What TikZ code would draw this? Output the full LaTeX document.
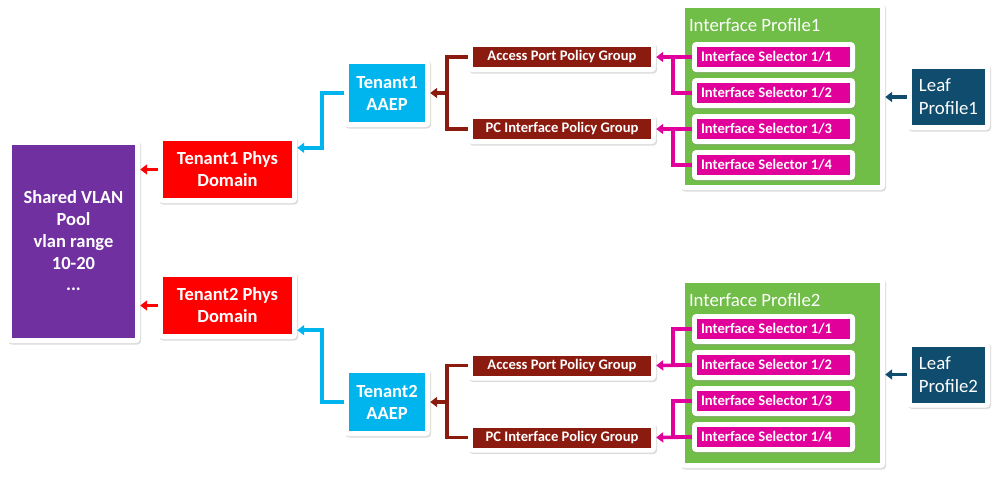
\documentclass[tikz,border=0pt]{standalone}
\usepackage{fontspec}
\setmainfont{Carlito}
\usetikzlibrary{positioning, calc, shadows, arrows.meta}
\definecolor{poolcol}{HTML}{7030A0}
\definecolor{domcol}{HTML}{FF0000}
\definecolor{aaepcol}{HTML}{00B5EE}
\definecolor{pgcol}{HTML}{8B1A0F}
\definecolor{ipcol}{HTML}{70BD48}
\definecolor{selcol}{HTML}{E1009A}
\definecolor{leafcol}{HTML}{0F4C6D}

\begin{document}
\begin{tikzpicture}[x=1pt, y=-1pt,
        box/.style={fill=white, rounded corners=4pt, inner sep=0pt, text=white, align=center,
            drop shadow={shadow xshift=1.2pt, shadow yshift=-1.6pt, opacity=0.3, fill=black!45},
            path picture={\fill[#1, sharp corners] ([shift={(5pt,5pt)}]path picture bounding box.south west) rectangle ([shift={(-5pt,-5pt)}]path picture bounding box.north east);}},
        big/.style={font=\fontsize{18.5}{22}\selectfont\bfseries},
        small/.style={font=\fontsize{14.6}{16}\selectfont\bfseries},
        plain/.style={font=\fontsize{18.8}{23}\selectfont},
        selbox/.style={box=selcol, small, text width=145pt, align=flush left, minimum width=163pt, minimum height=30pt},
        link/.style={line width=3.6pt, draw=#1},
        tip/.style={-{Triangle[length=7pt,width=10pt]}}]
        \useasboundingbox (0,0) rectangle (999,480);

        %vlan pool e domini
        \node[box=poolcol, big, minimum width=133pt, minimum height=203pt] (pool) at (73.5,241.5) {Shared VLAN\\Pool\\vlan range\\10-20\\\raisebox{1pt}{...}};
        \node[box=domcol, big, minimum width=139pt, minimum height=67pt] (dom1) at (227.5,169.5) {Tenant1 Phys\\Domain};
        \node[box=domcol, big, minimum width=139pt, minimum height=67pt] (dom2) at (227.5,305.5) {Tenant2 Phys\\Domain};

        %aaep
        \node[box=aaepcol, big, minimum width=86pt, minimum height=68pt] (aaep1) at (387,93) {Tenant1\\AAEP};
        \node[box=aaepcol, big, minimum width=86pt, minimum height=68pt] (aaep2) at (387,402) {Tenant2\\AAEP};

        %policy group
        \node[box=pgcol, small, minimum width=188pt, minimum height=30pt] (ap1) at (562,57) {Access Port Policy Group};
        \node[box=pgcol, small, minimum width=188pt, minimum height=30pt] (pc1) at (562,129) {PC Interface Policy Group};
        \node[box=pgcol, small, minimum width=188pt, minimum height=30pt] (ap2) at (562,365.5) {Access Port Policy Group};
        \node[box=pgcol, small, minimum width=188pt, minimum height=30pt] (pc2) at (562,437.5) {PC Interface Policy Group};

        %interface profile
        \node[box=ipcol, minimum width=205pt, minimum height=187pt] (ip1) at (782.5,96.5) {};
        \node[text=white, plain, anchor=base west, inner sep=0pt] (ipt1) at ([shift={(9pt,-29pt)}]ip1.north west) {Interface Profile1};
        \node[box=ipcol, minimum width=205pt, minimum height=190pt] (ip2) at (782.5,373) {};
        \node[text=white, plain, anchor=base west, inner sep=0pt] (ipt2) at ([shift={(9pt,-29pt)}]ip2.north west) {Interface Profile2};

        %interface selector
        \node[selbox] (s11) at (773.5,57) {Interface Selector 1/1};
        \node[selbox] (s12) at (773.5,93) {Interface Selector 1/2};
        \node[selbox] (s13) at (773.5,129) {Interface Selector 1/3};
        \node[selbox] (s14) at (773.5,165) {Interface Selector 1/4};
        \node[selbox] (s21) at (773.5,329) {Interface Selector 1/1};
        \node[selbox] (s22) at (773.5,365) {Interface Selector 1/2};
        \node[selbox] (s23) at (773.5,401) {Interface Selector 1/3};
        \node[selbox] (s24) at (773.5,437) {Interface Selector 1/4};

        %leaf profile
        \node[box=leafcol, plain, align=left, minimum width=83pt, minimum height=66pt] (leaf1) at (948.5,97) {Leaf\\Profile1};
        \node[box=leafcol, plain, align=left, minimum width=83pt, minimum height=66pt] (leaf2) at (948.5,374.5) {Leaf\\Profile2};

        %frecce dominio -> pool
        \draw[link=domcol, tip] (dom1.west) -- (dom1.west -| pool.east);
        \draw[link=domcol, tip] (dom2.west) -- (dom2.west -| pool.east);

        %frecce aaep -> dominio
        \draw[link=aaepcol, tip] (aaep1.west) -- ++(-22,0) |- ([yshift=-12pt]dom1.north east);
        \draw[link=aaepcol, tip] (aaep2.west) -- ++(-22,0) |- ([yshift=9pt]dom2.south east);

        %frecce policy group -> aaep
        \draw[link=pgcol] (ap1.west) -- ++(-21,0) coordinate (br1) |- (pc1.west);
        \draw[link=pgcol, tip] (br1 |- aaep1.east) -- (aaep1.east);
        \draw[link=pgcol] (ap2.west) -- ++(-21,0) coordinate (br2) |- (pc2.west);
        \draw[link=pgcol, tip] (br2 |- aaep2.east) -- (aaep2.east);

        %frecce selector -> policy group
        \draw[link=selcol] (s12.west) -- ++(-19,0) |- (s11.west);
        \draw[link=selcol, tip] (s11.west) -- (ap1.east);
        \draw[link=selcol] (s14.west) -- ++(-19,0) |- (s13.west);
        \draw[link=selcol, tip] (s13.west) -- (pc1.east);
        \draw[link=selcol] (s21.west) -- ++(-19,0) |- (s22.west);
        \draw[link=selcol, tip] (s22.west) -- (ap2.east);
        \draw[link=selcol] (s23.west) -- ++(-19,0) |- (s24.west);
        \draw[link=selcol, tip] (s24.west) -- (pc2.east);

        %frecce leaf -> interface profile
        \draw[link=leafcol, tip] (leaf1.west) -- (leaf1.west -| ip1.east);
        \draw[link=leafcol, tip] (leaf2.west) -- (leaf2.west -| ip2.east);
\end{tikzpicture}
\end{document}
